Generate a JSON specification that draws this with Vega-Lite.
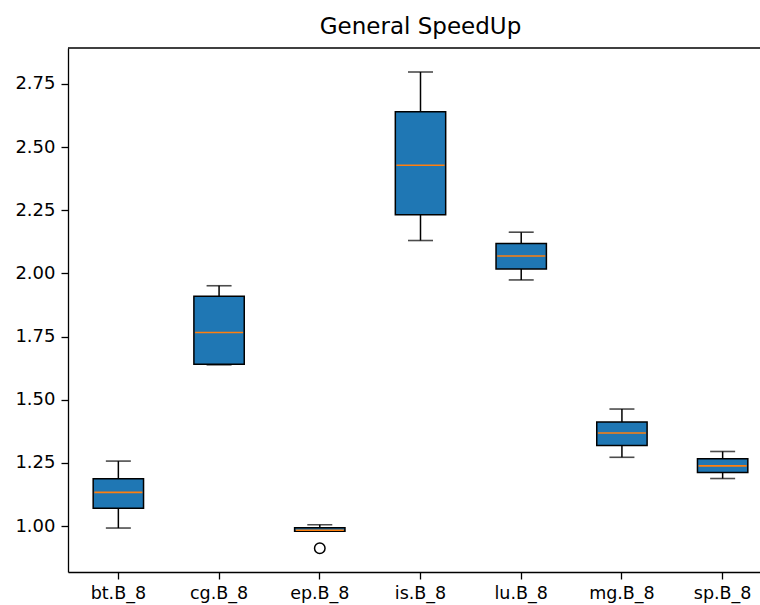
{
  "$schema": "https://vega.github.io/schema/vega-lite/v6.json",
  "autosize": "none",
  "padding": {"left": 68, "top": 48, "right": 0, "bottom": 33},
  "width": 692,
  "height": 524,
  "background": "white",
  "title": {
    "text": "General SpeedUp",
    "font": "DejaVu Sans",
    "fontSize": 23,
    "fontWeight": "normal",
    "color": "black",
    "anchor": "middle",
    "frame": "group",
    "baseline": "alphabetic",
    "offset": -10,
    "dx": 6.5
  },
  "datasets": {
    "stats": [
      {"bench": "bt.B_8", "lo": 0.992, "q1": 1.070, "med": 1.133, "q3": 1.187, "hi": 1.257},
      {"bench": "cg.B_8", "lo": 1.638, "q1": 1.640, "med": 1.766, "q3": 1.909, "hi": 1.951},
      {"bench": "ep.B_8", "lo": 0.979, "q1": 0.979, "med": 0.983, "q3": 0.993, "hi": 1.005},
      {"bench": "is.B_8", "lo": 2.130, "q1": 2.232, "med": 2.428, "q3": 2.640, "hi": 2.797},
      {"bench": "lu.B_8", "lo": 1.974, "q1": 2.017, "med": 2.069, "q3": 2.118, "hi": 2.163},
      {"bench": "mg.B_8", "lo": 1.272, "q1": 1.319, "med": 1.368, "q3": 1.412, "hi": 1.463},
      {"bench": "sp.B_8", "lo": 1.188, "q1": 1.212, "med": 1.238, "q3": 1.266, "hi": 1.295}
    ],
    "outliers": [
      {"bench": "ep.B_8", "value": 0.912}
    ],
    "frame": [
      {"top": 2.892}
    ]
  },
  "layer": [
    {
      "data": {"name": "frame"},
      "mark": {"type": "rule", "color": "black", "strokeWidth": 1.3},
      "encoding": {"y": {"field": "top", "type": "quantitative"}}
    },
    {
      "data": {"name": "stats"},
      "mark": {"type": "rule", "color": "black", "strokeWidth": 1.5},
      "encoding": {
        "x": {
          "field": "bench",
          "type": "nominal",
          "sort": ["bt.B_8", "cg.B_8", "ep.B_8", "is.B_8", "lu.B_8", "mg.B_8", "sp.B_8"],
          "scale": {"range": [0, 705], "paddingInner": 0, "paddingOuter": 0},
          "axis": {
            "title": null,
            "labelAngle": 0,
            "labelFont": "DejaVu Sans",
            "labelFontSize": 17.5,
            "labelColor": "black",
            "labelPadding": 5,
            "tickSize": 7,
            "tickColor": "black",
            "tickWidth": 1.3,
            "domainColor": "black",
            "domainWidth": 1.3,
            "grid": false
          }
        },
        "y": {
          "field": "lo",
          "type": "quantitative",
          "scale": {"domain": [0.818, 2.892], "nice": false, "zero": false},
          "axis": {
            "title": null,
            "values": [1.0, 1.25, 1.5, 1.75, 2.0, 2.25, 2.5, 2.75],
            "format": ".2f",
            "labelFont": "DejaVu Sans",
            "labelFontSize": 18,
            "labelColor": "black",
            "labelPadding": 6,
            "tickSize": 7,
            "tickColor": "black",
            "tickWidth": 1.3,
            "domainColor": "black",
            "domainWidth": 1.3,
            "grid": false
          }
        },
        "y2": {"field": "q1"}
      }
    },
    {
      "data": {"name": "stats"},
      "mark": {"type": "rule", "color": "black", "strokeWidth": 1.5},
      "encoding": {
        "x": {"field": "bench", "type": "nominal"},
        "y": {"field": "q3", "type": "quantitative"},
        "y2": {"field": "hi"}
      }
    },
    {
      "data": {"name": "stats"},
      "mark": {"type": "tick", "color": "black", "size": 25, "thickness": 1.6},
      "encoding": {
        "x": {"field": "bench", "type": "nominal"},
        "y": {"field": "lo", "type": "quantitative"}
      }
    },
    {
      "data": {"name": "stats"},
      "mark": {"type": "tick", "color": "black", "size": 25, "thickness": 1.6},
      "encoding": {
        "x": {"field": "bench", "type": "nominal"},
        "y": {"field": "hi", "type": "quantitative"}
      }
    },
    {
      "data": {"name": "stats"},
      "mark": {"type": "bar", "width": {"band": 0.5}, "fill": "#1f77b4", "stroke": "black", "strokeWidth": 1.5},
      "encoding": {
        "x": {"field": "bench", "type": "nominal"},
        "y": {"field": "q1", "type": "quantitative"},
        "y2": {"field": "q3"}
      }
    },
    {
      "data": {"name": "stats"},
      "mark": {"type": "tick", "color": "#ff7f0e", "size": 48, "thickness": 1.6, "opacity": 1},
      "encoding": {
        "x": {"field": "bench", "type": "nominal"},
        "y": {"field": "med", "type": "quantitative"}
      }
    },
    {
      "data": {"name": "outliers"},
      "mark": {"type": "point", "shape": "circle", "filled": false, "color": "black", "size": 110, "strokeWidth": 1.5, "opacity": 1},
      "encoding": {
        "x": {"field": "bench", "type": "nominal"},
        "y": {"field": "value", "type": "quantitative"}
      }
    }
  ],
  "config": {
    "view": {"stroke": null}
  }
}
